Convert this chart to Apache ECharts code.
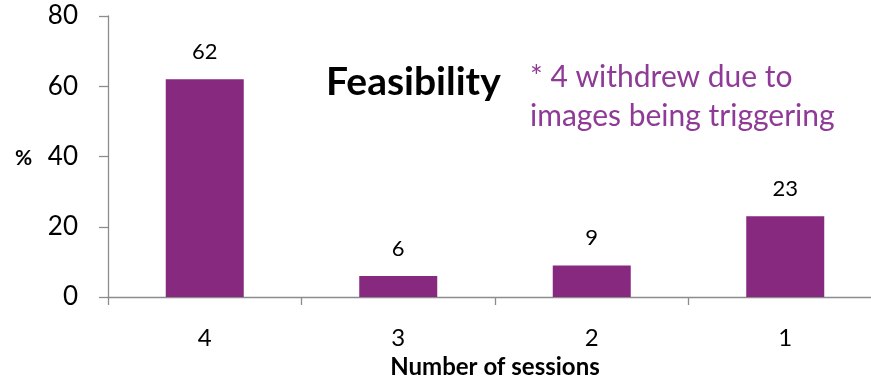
<!DOCTYPE html>
<html>
<head>
<meta charset="utf-8">
<script src="https://cdn.jsdelivr.net/npm/echarts@6/dist/echarts.min.js"></script>
<style>
  html, body { margin: 0; padding: 0; background: #fff; }
  #chart { width: 871px; height: 378px; }
</style>
</head>
<body>
<div id="chart"></div>
<script>
// Sessions attended, shown as share of participants
const sessions = ['4', '3', '2', '1'];
const percentages = [62, 6, 9, 23];
const yTicks = [0, 20, 40, 60, 80];

const FONT = 'Lato, "Open Sans", sans-serif';
const BAR = '#86297F';
const AXIS = '#8C8C8C';

const chart = echarts.init(document.getElementById('chart'), null, { renderer: 'canvas' });

chart.setOption({
  animation: false,
  // the category band runs a little past the right edge of the canvas
  grid: { left: 108, width: 774, top: 16, bottom: 81, containLabel: false, outerBoundsMode: 'none' },
  xAxis: {
    type: 'category',
    data: sessions,
    name: 'Number of sessions',
    nameLocation: 'middle',
    nameGap: 54,
    nameTextStyle: { fontFamily: FONT, fontSize: 24, fontWeight: 'bold', color: '#000' },
    axisLine: { lineStyle: { color: AXIS, width: 1.3 } },
    axisTick: { show: true, length: 8, alignWithLabel: false, lineStyle: { color: AXIS, width: 1.3 } },
    axisLabel: { fontFamily: FONT, fontSize: 24, color: '#000', margin: 29 }
  },
  yAxis: {
    type: 'value',
    min: yTicks[0],
    max: yTicks[yTicks.length - 1],
    interval: 20,
    splitLine: { show: false },
    axisLine: { show: true, lineStyle: { color: AXIS, width: 1.3 } },
    axisTick: { show: true, length: 9, lineStyle: { color: AXIS, width: 1.3 } },
    axisLabel: { fontFamily: FONT, fontSize: 26, color: '#000', margin: 30 }
  },
  series: [{
    type: 'bar',
    data: percentages,
    barWidth: 78,
    itemStyle: { color: BAR },
    label: {
      show: true,
      position: 'top',
      distance: 16,
      fontFamily: FONT,
      fontSize: 22,
      color: '#000'
    }
  }],
  graphic: [
    {
      type: 'text', left: 15, top: 148,
      style: { text: '%', fontFamily: FONT, fontSize: 21, fontWeight: 'bold', fill: '#000' }
    },
    {
      type: 'text', left: 326, top: 63,
      style: { text: 'Feasibility', fontFamily: FONT, fontSize: 39, fontWeight: 'bold', fill: '#000' }
    },
    {
      type: 'text', left: 530, top: 58,
      style: {
        text: '* 4 withdrew due to\nimages being triggering',
        fontFamily: FONT, fontSize: 30, lineHeight: 39, fill: '#8E3A96'
      }
    }
  ]
});
</script>
</body>
</html>
